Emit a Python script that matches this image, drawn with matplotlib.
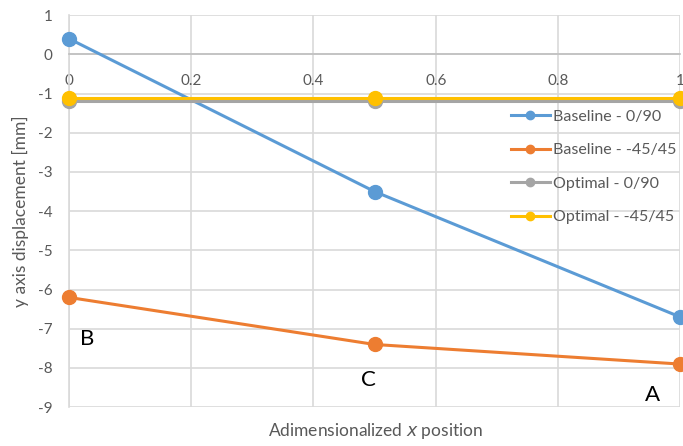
import matplotlib.pyplot as plt

x_pos = [0, 0.5, 1]
baseline_090 = [0.4, -3.5, -6.7]
baseline_4545 = [-6.2, -7.4, -7.9]
optimal_090 = [-1.2, -1.2, -1.2]
optimal_4545 = [-1.12, -1.12, -1.12]

series_names = ['Baseline - 0/90', 'Baseline - -45/45', 'Optimal - 0/90', 'Optimal - -45/45']
colors = ['#5B9BD5', '#ED7D31', '#A5A5A5', '#FFC000']

point_labels = ['B', 'C', 'A']
label_x = [0.03, 0.49, 0.955]
label_y = [-7.25, -8.3, -8.7]

plt.rcParams['font.family'] = ['Lato', 'DejaVu Sans']
plt.rcParams['axes.unicode_minus'] = False
text_col = '#595959'

fig = plt.figure(figsize=(6.83, 4.46), dpi=100)
ax = fig.add_axes([0.101, 0.087, 0.895, 0.879])

for ys, name, c in zip([baseline_090, baseline_4545, optimal_090, optimal_4545], series_names, colors):
    ax.plot(x_pos, ys, color=c, lw=2.2, marker='o', markersize=10, label=name,
            clip_on=False, zorder=3)

ax.set_xlim(0, 1)
ax.set_ylim(-9, 1)
ax.set_xticks([0, 0.2, 0.4, 0.6, 0.8, 1])
ax.set_xticklabels(['0', '0.2', '0.4', '0.6', '0.8', '1'])
ax.set_yticks(range(-9, 2))
ax.grid(True, color='#D9D9D9', lw=1.2)
ax.set_axisbelow(True)

for s in ['top', 'right']:
    ax.spines[s].set_visible(False)
ax.spines['left'].set_color('#D9D9D9')
ax.spines['left'].set_linewidth(1.2)
ax.spines['bottom'].set_position(('data', 0))
ax.spines['bottom'].set_color('#BFBFBF')
ax.spines['bottom'].set_linewidth(1.2)
ax.tick_params(length=0, labelsize=11, labelcolor=text_col)
ax.tick_params(axis='x', pad=14)
ax.tick_params(axis='y', pad=12)

for lab, lx, ly in zip(point_labels, label_x, label_y):
    ax.text(lx, ly, lab, fontsize=16, color='black', ha='center', va='center')

ax.set_ylabel('y axis displacement [mm]', fontsize=12.5, color=text_col, labelpad=6)
fig.text(0.55, 0.022, 'Adimensionalized $x$ position', fontsize=12.5, color=text_col, ha='center')

leg = ax.legend(loc='upper left', bbox_to_anchor=(0.7, 0.795), frameon=False, fontsize=11.5,
                labelspacing=1.2, handlelength=2.4, handletextpad=0.2, markerscale=0.6,
                labelcolor=text_col)

fig.savefig('out.png', dpi=100)
